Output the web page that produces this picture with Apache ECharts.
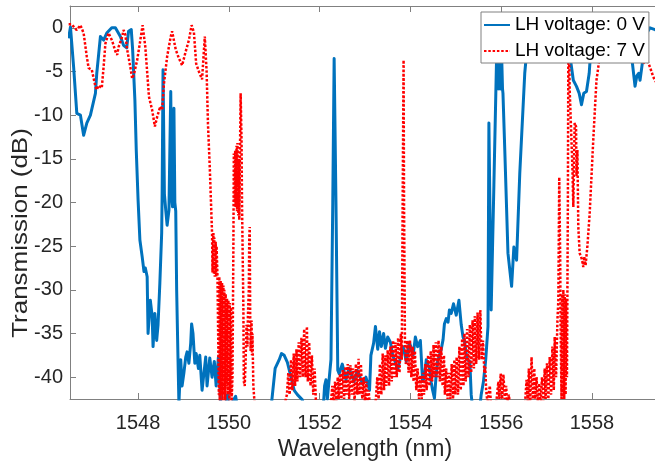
<!DOCTYPE html>
<html>
<head>
<meta charset="utf-8">
<script src="https://cdn.jsdelivr.net/npm/echarts@6/dist/echarts.min.js"></script>
<style>
html,body{margin:0;padding:0;overflow:hidden;background:#fff;}
#c{width:665px;height:461px;}
</style>
</head>
<body>
<div id="c"></div>
<script>
// ---- data (wavelength in nm, transmission in dB) ----
const xTicks = [1548, 1550, 1552, 1554, 1556, 1558];
const yTicks = [-40, -35, -30, -25, -20, -15, -10, -5, 0];
const seriesNames = ['LH voltage: 0 V', 'LH voltage: 7 V'];

const wl0 = [1546.47,1546.51,1546.58,1546.65,1546.73,1546.80,1546.87,1546.95,1546.98,1547.06,1547.09,1547.17,1547.24,1547.31,1547.42,1547.50,1547.61,1547.68,1547.75,1547.79,1547.85,1547.88,1547.93,1547.96,1548.00,1548.04,1548.09,1548.13,1548.16,1548.20,1548.22,1548.27,1548.31,1548.33,1548.37,1548.41,1548.44,1548.48,1548.52,1548.53,1548.55,1548.58,1548.61,1548.64,1548.68,1548.72,1548.74,1548.76,1548.79,1548.81,1548.83,1548.85,1548.88,1548.90,1548.94,1548.97,1549.01,1549.05,1549.08,1549.12,1549.16,1549.18,1549.21,1549.25,1549.28,1549.33,1549.36,1549.41,1549.49,1549.52,1549.58,1549.63,1549.68,1549.72,1549.77,1549.82,1549.92,1549.97,1550.00,1550.15,1550.19,1550.93,1550.96,1551.02,1551.11,1551.16,1551.22,1551.29,1551.37,1551.44,1551.51,1551.55,1551.62,1551.66,1552.08,1552.11,1552.14,1552.17,1552.25,1552.29,1552.32,1552.36,1552.40,1552.43,1552.50,1552.58,1552.65,1552.76,1552.83,1552.95,1553.02,1553.10,1553.13,1553.19,1553.23,1553.28,1553.32,1553.36,1553.41,1553.45,1553.50,1553.56,1553.61,1553.65,1553.72,1553.80,1553.84,1553.87,1553.91,1553.98,1554.02,1554.06,1554.11,1554.16,1554.22,1554.27,1554.31,1554.35,1554.38,1554.42,1554.46,1554.49,1554.53,1554.57,1554.60,1554.68,1554.72,1554.75,1554.79,1554.83,1554.86,1554.90,1554.95,1555.01,1555.07,1555.12,1555.16,1555.19,1555.25,1555.31,1555.34,1555.37,1555.53,1555.56,1555.61,1555.66,1555.71,1555.73,1555.78,1555.84,1555.90,1555.91,1555.93,1555.95,1555.97,1555.99,1556.01,1556.03,1556.04,1556.08,1556.15,1556.23,1556.28,1556.34,1556.41,1556.52,1556.56,1556.63,1556.85,1557.07,1557.29,1557.45,1557.51,1557.59,1557.66,1557.72,1557.77,1557.82,1557.88,1557.94,1557.97,1558.18,1558.51,1558.73,1558.88,1558.95,1558.99,1559.03,1559.06,1559.12,1559.21,1559.28,1559.39,1559.50];
const db0 = [-1.2,0.1,-4.5,-9.8,-10,-12.3,-10.9,-10,-10.2,-7.5,-5.2,-1,-1.4,-0.6,0,0,-1,-2,-2.3,-0.4,-0.2,-2.5,-8.3,-14,-19.7,-24.3,-26.2,-27.9,-27.5,-28.5,-35,-31.2,-33,-36.5,-32.7,-35.8,-34,-29.2,-23.5,-19,-4.8,-19,-20.9,-22.6,-20.9,-7.3,-19.5,-20.5,-9.2,-20,-21,-30,-38,-43,-38,-41,-39.5,-37.7,-37.1,-38.4,-36.1,-33.9,-35,-38.4,-37.3,-39,-37.5,-41.5,-37.7,-41,-37.8,-40,-38.2,-41,-37.7,-43,-43.5,-42,-43.5,-42.2,-43.5,-43.5,-42,-39,-38,-37.3,-37.5,-38.3,-40,-41.5,-42,-41.8,-42.6,-43.5,-43.5,-41,-40.3,-42.5,-38,-20,-3.5,-20,-39.2,-39.6,-38.5,-40.3,-39,-40.5,-39.2,-40.8,-40,-41.5,-37.5,-36.1,-34.2,-36.8,-34.8,-36.5,-35,-36.7,-35.4,-36,-37.5,-38,-39.2,-37.3,-36.5,-36.4,-38.2,-36,-35.8,-37.5,-35.4,-36.5,-35.8,-40.5,-40,-38,-37.8,-39,-40.6,-41.5,-42.4,-39.6,-38.2,-36.8,-35.7,-33.9,-33.3,-33.7,-32.3,-32.7,-31.6,-32.9,-31.2,-34,-35.4,-35.8,-38,-38.2,-42,-43.5,-43.5,-42,-40.5,-38,-34.2,-10.9,-32.3,-18,-3.2,-7,-2.5,-7,-2.5,-7,-3,-7,-7.5,-14,-25.8,-29.6,-25.1,-26.6,-16.7,-5.2,-2.9,-1.2,-0.5,-1,-0.3,-1.5,-3,-6,-6.7,-7.5,-8.8,-7.5,-7.3,-5.2,-2.9,-1,-0.5,-1.5,-3.5,-6.7,-5.5,-5.2,-6,-3.7,-0.6,0,-0.2,-0.5];

const wl7 = [1546.47,1546.54,1546.60,1546.65,1546.73,1546.80,1546.87,1546.91,1546.98,1547.06,1547.09,1547.13,1547.20,1547.24,1547.28,1547.35,1547.43,1547.50,1547.54,1547.57,1547.65,1547.68,1547.72,1547.76,1547.83,1547.87,1547.91,1547.98,1548.05,1548.10,1548.16,1548.24,1548.31,1548.37,1548.42,1548.49,1548.53,1548.57,1548.64,1548.72,1548.75,1548.79,1548.83,1548.90,1548.97,1549.05,1549.12,1549.18,1549.23,1549.28,1549.34,1549.41,1549.47,1549.51,1549.54,1549.58,1549.62,1549.63,1549.64,1549.66,1549.67,1549.68,1549.69,1549.71,1549.72,1549.73,1549.75,1549.76,1549.78,1549.79,1549.80,1549.82,1549.83,1549.85,1549.86,1549.88,1549.89,1549.90,1549.92,1549.93,1549.95,1549.96,1549.98,1549.99,1550.01,1550.02,1550.03,1550.05,1550.06,1550.08,1550.10,1550.11,1550.13,1550.14,1550.15,1550.17,1550.18,1550.19,1550.21,1550.22,1550.23,1550.25,1550.26,1550.28,1550.29,1550.30,1550.32,1550.33,1550.35,1550.37,1550.39,1550.41,1550.42,1550.44,1550.45,1550.46,1550.47,1550.48,1550.50,1550.51,1550.52,1550.54,1550.56,1550.58,1551.22,1551.26,1551.28,1551.31,1551.34,1551.37,1551.40,1551.43,1551.46,1551.49,1551.51,1551.54,1551.57,1551.60,1551.63,1551.66,1551.69,1551.72,1551.74,1551.77,1551.80,1551.83,1551.86,1551.89,1551.92,1551.95,1552.21,1552.25,1552.28,1552.31,1552.34,1552.37,1552.40,1552.42,1552.45,1552.48,1552.51,1552.54,1552.57,1552.59,1552.62,1552.65,1552.68,1552.71,1552.74,1552.77,1552.80,1552.83,1552.86,1552.88,1552.91,1552.94,1552.97,1553.00,1553.03,1553.05,1553.08,1553.11,1553.21,1553.24,1553.27,1553.30,1553.33,1553.36,1553.39,1553.42,1553.45,1553.47,1553.50,1553.53,1553.56,1553.59,1553.62,1553.65,1553.67,1553.70,1553.73,1553.76,1553.79,1553.81,1553.83,1553.85,1553.86,1553.88,1553.90,1553.93,1553.96,1553.99,1554.02,1554.05,1554.07,1554.10,1554.13,1554.16,1554.19,1554.22,1554.25,1554.28,1554.30,1554.33,1554.36,1554.39,1554.42,1554.45,1554.48,1554.51,1554.53,1554.56,1554.59,1554.62,1554.65,1554.68,1554.71,1554.74,1554.76,1554.79,1554.82,1554.85,1554.88,1554.91,1554.94,1554.97,1554.99,1555.02,1555.05,1555.08,1555.11,1555.14,1555.17,1555.19,1555.22,1555.25,1555.28,1555.31,1555.34,1555.37,1555.40,1555.42,1555.45,1555.48,1555.51,1555.54,1555.57,1555.60,1555.63,1555.65,1555.67,1555.70,1555.75,1555.78,1555.88,1555.91,1555.94,1555.96,1555.99,1556.02,1556.05,1556.08,1556.11,1556.13,1556.17,1556.20,1556.52,1556.56,1556.59,1556.61,1556.64,1556.67,1556.70,1556.73,1556.75,1556.78,1556.81,1556.84,1556.87,1556.90,1556.93,1556.96,1556.98,1557.01,1557.04,1557.07,1557.10,1557.13,1557.16,1557.18,1557.21,1557.24,1557.26,1557.28,1557.30,1557.31,1557.33,1557.34,1557.36,1557.37,1557.39,1557.40,1557.42,1557.43,1557.45,1557.47,1557.48,1557.50,1557.51,1557.55,1557.57,1557.59,1557.60,1557.62,1557.65,1557.66,1557.68,1557.70,1557.73,1557.78,1557.81,1557.83,1557.86,1557.90,1557.95,1558.03,1558.10,1558.14,1558.18,1558.40,1558.62,1558.84,1559.01,1559.13,1559.20,1559.28,1559.35,1559.39,1559.50];
const db7 = [0.4,0.4,0,-0.25,0.3,-0.6,-3.3,-4.6,-4.8,-6.7,-7.1,-6.6,-6.9,-4.5,-1.8,-0.6,-1.5,-2.7,-3.1,-2.2,-1,-0.25,-0.8,-2.5,-4.5,-5.8,-5.3,-3.7,-1.4,0.3,-2.2,-7.9,-9.4,-11.3,-10.2,-9,-9.4,-6.4,-3.3,-1,-0.4,-0.6,-2.5,-3.5,-4.3,-2.7,-1.4,0.3,-0.5,-4.1,-5,-5.9,-1,-5,-11,-16,-22,-23.5,-28,-23.5,-28.2,-24,-28.5,-24.5,-28.5,-25,-28.5,-28.3,-42,-28.5,-43,-29,-42,-29.2,-43,-29.5,-42,-30,-43,-30.5,-41,-31,-42,-31.2,-43,-31.5,-42,-32,-43,-40,-25,-14.4,-20,-14,-20.5,-13.5,-21,-13.2,-21.5,-15,-22,-12,-7.5,-13,-20,-24,-32,-40.5,-41,-38,-34,-36.5,-33,-30,-24,-22.8,-33,-37,-33.5,-37.5,-35,-41,-42.5,-43.5,-43.5,-42.4,-42,-39.5,-42,-38,-41.5,-37.3,-41,-36.8,-40.5,-36,-40,-35.5,-40,-34.5,-40,-34.2,-40.5,-36,-41,-37.5,-42,-39,-43,-43.5,-43.5,-43,-41,-43,-40.5,-42.8,-40,-42.5,-39.6,-42.5,-39.2,-42.5,-38.8,-42,-38.5,-42.5,-38.6,-42,-39,-42.8,-38.5,-42,-37.9,-42,-38.5,-42.5,-40,-43,-40.5,-43,-41.5,-43.5,-43.5,-42.5,-40,-42.5,-38.5,-42,-37.3,-41.5,-37.5,-41,-36.9,-41,-36.5,-40.5,-35.8,-40,-36,-40,-35.5,-39.5,-35,-38,-20,-3.7,-20,-36,-38.5,-35.8,-39.5,-35.8,-40,-36.5,-40.5,-37,-41.5,-39,-42.5,-39.8,-42.5,-39.5,-42,-38.5,-41.5,-37.5,-41,-37,-40.5,-36.3,-40,-36,-40,-35.8,-40.5,-36.5,-41,-37.5,-42,-39,-42.5,-39.5,-42.5,-38.5,-42.5,-38,-42,-37.7,-42,-36.5,-41.5,-35.6,-41,-35,-40.5,-34.5,-40,-34,-39.5,-33.5,-39,-33,-38.5,-32.6,-38,-32.3,-38,-35.8,-39.5,-38.8,-41.5,-43,-41,-43.5,-43.5,-42,-40.5,-42.5,-39.6,-42.5,-39.7,-42.5,-41,-43,-42,-43.5,-43.5,-40.3,-43,-39,-43,-37.7,-42.5,-39,-42.5,-40,-43,-40.7,-43,-40,-42.8,-39,-42.5,-38.4,-42.5,-37.7,-42,-36.5,-41.5,-35.4,-40,-33.5,-31.2,-17.1,-26,-34,-42.5,-30.5,-42.5,-30,-42.5,-30.5,-42,-31,-40,-20,-3.5,-4,-7.1,-13,-16,-20.5,-16.7,-10.9,-11.3,-17,-14,-22.8,-25.8,-26.5,-27.4,-26.2,-27.2,-25,-21.3,-12.8,-6,-4.5,-2.9,-1.5,-1,-2,-3,-4.1,-3.5,-4.5,-5.6,-6,-7];

const pairs = (xs, ys) => xs.map((x, i) => [x, ys[i]]);

const FONT = '"Liberation Sans", Arial, sans-serif';
const AXC = '#808080';
const TXT = '#262626';

const chart = echarts.init(document.getElementById('c'), null, {renderer: 'canvas'});
chart.setOption({
  animation: false,
  backgroundColor: '#fff',
  grid: {left: 70, right: 5, top: 6, bottom: 62, containLabel: false, outerBoundsMode: 'none'},
  legend: {
    data: seriesNames,
    orient: 'vertical',
    left: 481, top: 12,
    padding: [2, 4, 1, 2],
    itemWidth: 26, itemHeight: 12, itemGap: 4,
    itemStyle: {opacity: 0},
    backgroundColor: '#fff',
    borderColor: AXC, borderWidth: 1, borderRadius: 0,
    textStyle: {fontFamily: FONT, fontSize: 19, lineHeight: 22, color: '#000'}
  },
  graphic: [{
    type: 'text', x: 21, y: 233, rotation: Math.PI / 2, scaleX: 1.18, z: 10,
    style: {text: 'Transmission (dB)', fontFamily: FONT, fontSize: 22, fill: TXT,
            align: 'center', verticalAlign: 'middle'}
  }],
  xAxis: [{
    type: 'value', position: 'bottom', min: 1546.5, max: 1559.5,
    name: 'Wavelength (nm)', nameLocation: 'middle', nameGap: 36,
    nameTextStyle: {fontFamily: FONT, fontSize: 23, color: TXT},
    axisLine: {show: true, onZero: false, lineStyle: {color: AXC, width: 1}},
    axisTick: {show: true, inside: true, length: 6, customValues: xTicks, lineStyle: {color: AXC}},
    axisLabel: {customValues: xTicks, formatter: v => String(v), fontFamily: FONT, fontSize: 20, color: TXT, margin: 14},
    splitLine: {show: false}
  }, {
    type: 'value', position: 'top', min: 1546.5, max: 1559.5,
    axisLine: {show: true, onZero: false, lineStyle: {color: AXC, width: 1}},
    axisTick: {show: true, inside: true, length: 6, customValues: xTicks, lineStyle: {color: AXC}},
    axisLabel: {show: false},
    splitLine: {show: false}
  }],
  yAxis: [{
    type: 'value', position: 'left', min: -42.5, max: 2.5,
    axisLine: {show: true, onZero: false, lineStyle: {color: AXC, width: 1}},
    axisTick: {show: true, inside: true, length: 6, customValues: yTicks, lineStyle: {color: AXC}},
    axisLabel: {customValues: yTicks, formatter: v => String(v), fontFamily: FONT, fontSize: 20, color: TXT, margin: 7},
    splitLine: {show: false}
  }],
  series: [{
    name: seriesNames[0], type: 'line', xAxisIndex: 0, yAxisIndex: 0,
    data: pairs(wl0, db0), symbol: 'none', showSymbol: false, clip: true,
    lineStyle: {color: '#0072BD', width: 3, join: 'round'},
    itemStyle: {color: '#0072BD'}, z: 2
  }, {
    name: seriesNames[1], type: 'line', xAxisIndex: 0, yAxisIndex: 0,
    data: pairs(wl7, db7), symbol: 'none', showSymbol: false, clip: true,
    lineStyle: {color: '#FF0000', width: 2.5, type: [2.5, 1.8], cap: 'butt'},
    itemStyle: {color: '#FF0000'}, z: 3
  }]
});
</script>
</body>
</html>
